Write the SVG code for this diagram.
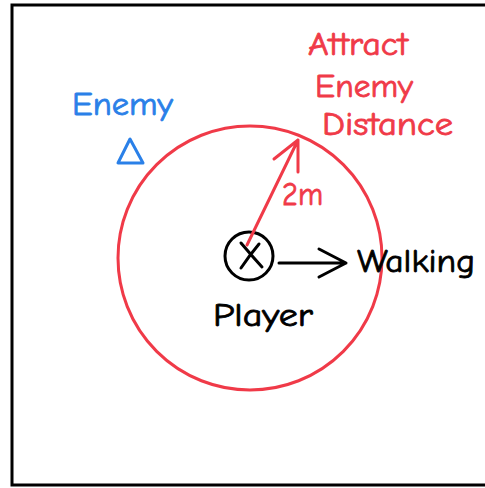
<svg xmlns="http://www.w3.org/2000/svg" width="485" height="488" viewBox="0 0 485 488">
<style>
.t{font-family:"Comic Neue","Liberation Sans",Arial,sans-serif;font-size:32px;stroke-width:0.8}
.red{fill:#f03a48;stroke:#f03a48}
.blue{fill:#2a80e8;stroke:#2a80e8}
.blk{fill:#000;stroke:#000}
.sr{stroke:#f03a48;fill:none;stroke-width:3;stroke-linecap:round;stroke-linejoin:round}
.sk{stroke:#000;fill:none;stroke-width:3;stroke-linecap:round;stroke-linejoin:round}
</style>
<rect width="485" height="488" fill="#fff"/>
<g id="frame">
<path d="M485 5 H12 V485 H485" fill="none" stroke="#000" stroke-width="3"/>
</g>
<g id="range">
<circle cx="250" cy="258" r="132" class="sr" stroke-width="2.5"/>
<text class="t red" x="308" y="55" textLength="100" lengthAdjust="spacingAndGlyphs">Attract</text>
<text class="t red" x="315" y="97" textLength="98" lengthAdjust="spacingAndGlyphs">Enemy</text>
<text class="t red" x="322" y="135" textLength="131" lengthAdjust="spacingAndGlyphs">Distance</text>
</g>
<g id="enemy">
<text class="t blue" x="72" y="115" textLength="101" lengthAdjust="spacingAndGlyphs">Enemy</text>
<polygon points="130,139 118,163 143,163" fill="none" stroke="#2a80e8" stroke-width="3" stroke-linejoin="round"/>
</g>
<g id="player">
<circle cx="249" cy="256" r="24" class="sk"/>
<path d="M241 243 Q252 256 262 267 M259 244 Q249 256 241 268" class="sk"/>
<text class="t blk" x="213" y="326" textLength="100" lengthAdjust="spacingAndGlyphs">Player</text>
</g>
<g id="walking">
<text class="t blk" x="357" y="272" textLength="118" lengthAdjust="spacingAndGlyphs">Walking</text>
</g>
<g id="connectors">
<g id="radius-arrow">
<path d="M247 245 L298 140 M274 159 L298 140 L298 172" class="sr"/>
<text class="t red" x="282" y="205" font-size="24" textLength="41" lengthAdjust="spacingAndGlyphs">2m</text>
</g>
<g id="walk-arrow">
<path d="M279 263 L346 263 M319 249 L346 263 L319 277" class="sk"/>
</g>
</g>
</svg>
